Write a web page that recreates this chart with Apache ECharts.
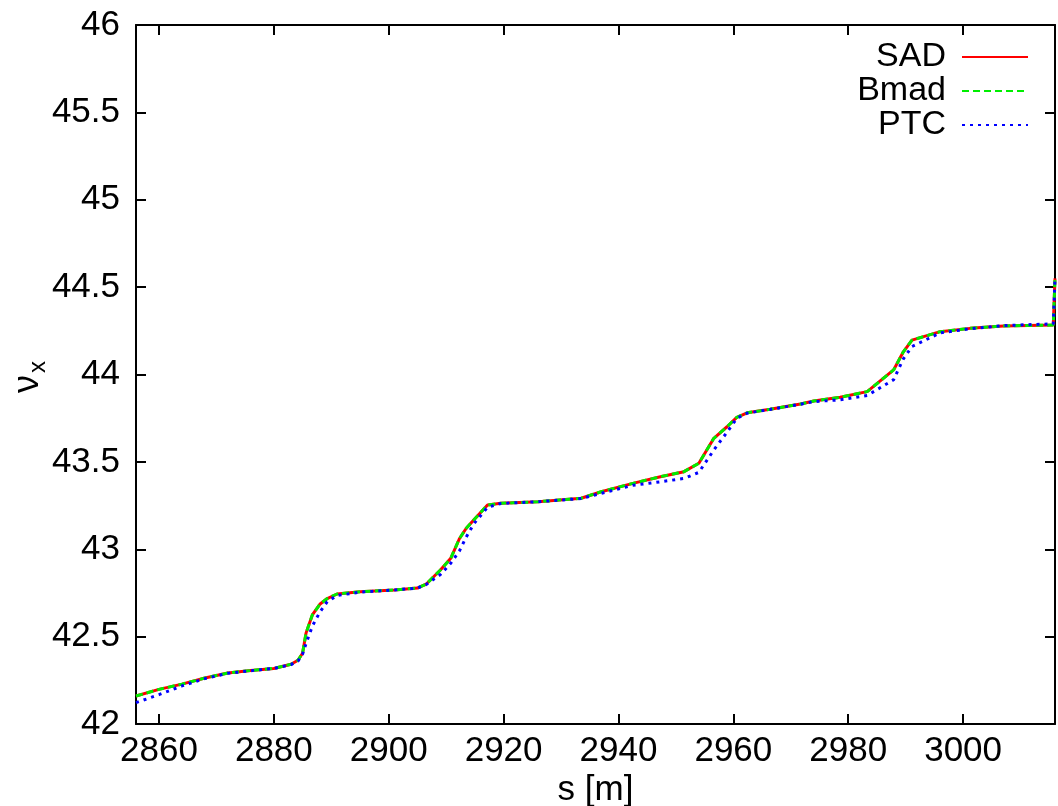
<!DOCTYPE html>
<html>
<head>
<meta charset="utf-8">
<script src="https://cdn.jsdelivr.net/npm/echarts@6/dist/echarts.min.js"></script>
<style>
  html, body { margin: 0; padding: 0; background: #fff; }
  #chart { width: 1058px; height: 806px; }
</style>
</head>
<body>
<div id="chart"></div>
<script>
// Longitudinal position s [m] of the sampled points
const sPos = [2856, 2860, 2864, 2868, 2872, 2876, 2880, 2883, 2884.2, 2885, 2885.6, 2886.7, 2888, 2889.3,
  2891, 2895, 2901, 2905, 2906.5, 2909, 2910.8, 2912.3, 2913.5, 2914.8, 2917.2, 2919.5, 2926, 2933.5,
  2937, 2942.5, 2947.3, 2951.4, 2954, 2956.6, 2958.9, 2960.6, 2962.4, 2966.4, 2971.7, 2974, 2978.6,
  2983.3, 2987.9, 2989.6, 2991.1, 2996, 3001.2, 3007, 3015.7, 3016];

// Horizontal phase advance nu_x from each code
const sadNu = [42.160, 42.198, 42.228, 42.263, 42.292, 42.306, 42.318, 42.342, 42.365, 42.405, 42.520, 42.624, 42.685, 42.718,
  42.744, 42.757, 42.767, 42.778, 42.800, 42.881, 42.948, 43.060, 43.120, 43.167, 43.253, 43.263, 43.272, 43.292,
  43.329, 43.377, 43.415, 43.444, 43.492, 43.635, 43.701, 43.755, 43.781, 43.801, 43.831, 43.848, 43.870,
  43.902, 44.026, 44.130, 44.197, 44.245, 44.264, 44.278, 44.283, 44.55];

const bmadNu = [42.160, 42.198, 42.228, 42.263, 42.292, 42.306, 42.318, 42.342, 42.365, 42.405, 42.520, 42.624, 42.685, 42.718,
  42.744, 42.757, 42.767, 42.778, 42.800, 42.881, 42.948, 43.060, 43.120, 43.167, 43.253, 43.263, 43.272, 43.292,
  43.329, 43.377, 43.415, 43.444, 43.492, 43.635, 43.701, 43.755, 43.781, 43.801, 43.831, 43.848, 43.870,
  43.902, 44.026, 44.130, 44.197, 44.245, 44.264, 44.278, 44.283, 44.55];

const ptcNu = [42.122, 42.168, 42.218, 42.260, 42.290, 42.305, 42.318, 42.340, 42.360, 42.400, 42.460, 42.560, 42.640, 42.700,
  42.735, 42.755, 42.767, 42.778, 42.798, 42.855, 42.920, 42.990, 43.070, 43.145, 43.240, 43.262, 43.272, 43.290,
  43.320, 43.366, 43.386, 43.405, 43.440, 43.568, 43.670, 43.749, 43.779, 43.800, 43.830, 43.845, 43.855,
  43.880, 43.970, 44.090, 44.160, 44.238, 44.262, 44.280, 44.290, 44.55];

const sTicks = [2860, 2880, 2900, 2920, 2940, 2960, 2980, 3000];

const FONT = '"Liberation Sans", Arial, Helvetica, sans-serif';
const pairs = (ys) => sPos.map((s, i) => [s, ys[i]]);

const chart = echarts.init(document.getElementById('chart'), null, { renderer: 'canvas' });

const axisLine = { show: true, lineStyle: { color: '#000', width: 2 } };
const tick = { show: true, inside: true, length: 10, lineStyle: { color: '#000', width: 2 } };

chart.setOption({
  animation: false,
  backgroundColor: '#fff',
  grid: { left: 136, right: 3, top: 25, bottom: 82, containLabel: false, outerBoundsMode: 'none' },
  legend: {
    orient: 'vertical',
    right: 24,
    top: 35,
    align: 'right',
    itemWidth: 66,
    itemHeight: 14,
    itemGap: 0,
    itemStyle: { opacity: 0 },
    textStyle: { fontFamily: FONT, fontSize: 34, lineHeight: 33, color: '#000', padding: [0, 11, 0, 0] },
    data: ['SAD', 'Bmad', 'PTC']
  },
  xAxis: [{
    type: 'value', min: 2856, max: 3016,
    axisLine: axisLine,
    axisTick: Object.assign({ customValues: sTicks }, tick),
    axisLabel: { customValues: sTicks, formatter: (v) => String(v), fontFamily: FONT, fontSize: 35, color: '#000', margin: 10 },
    splitLine: { show: false },
    name: 's [m]', nameLocation: 'middle', nameGap: 49, nameMoveOverlap: false,
    nameTextStyle: { fontFamily: FONT, fontSize: 35, color: '#000' }
  }, {
    type: 'value', min: 2856, max: 3016, position: 'top',
    axisLine: axisLine,
    axisTick: Object.assign({ customValues: sTicks }, tick),
    axisLabel: { show: false },
    splitLine: { show: false }
  }],
  yAxis: [{
    type: 'value', min: 42, max: 46, interval: 0.5,
    axisLine: axisLine,
    axisTick: tick,
    axisLabel: { fontFamily: FONT, fontSize: 35, color: '#000', margin: 16 },
    splitLine: { show: false }
  }, {
    type: 'value', min: 42, max: 46, interval: 0.5, position: 'right',
    axisLine: axisLine,
    axisTick: tick,
    axisLabel: { show: false },
    splitLine: { show: false }
  }],
  graphic: [
    { type: 'text', x: 10, y: 393, rotation: Math.PI / 2,
      style: { text: 'ν', font: '36px ' + FONT, fill: '#000' } },
    { type: 'text', x: 26, y: 373, rotation: Math.PI / 2,
      style: { text: 'x', font: '24px ' + FONT, fill: '#000' } }
  ],
  series: [{
    name: 'SAD', type: 'line', data: pairs(sadNu), showSymbol: false, symbol: 'none',
    lineStyle: { color: '#ff0000', width: 3, type: 'solid' }, itemStyle: { color: '#ff0000' }
  }, {
    name: 'Bmad', type: 'line', data: pairs(bmadNu), showSymbol: false, symbol: 'none',
    lineStyle: { color: '#00ee00', width: 3, type: [7, 4] }, itemStyle: { color: '#00ee00' }
  }, {
    name: 'PTC', type: 'line', data: pairs(ptcNu), showSymbol: false, symbol: 'none',
    lineStyle: { color: '#0000ff', width: 3, type: [3, 5] }, itemStyle: { color: '#0000ff' }
  }]
});
</script>
</body>
</html>
